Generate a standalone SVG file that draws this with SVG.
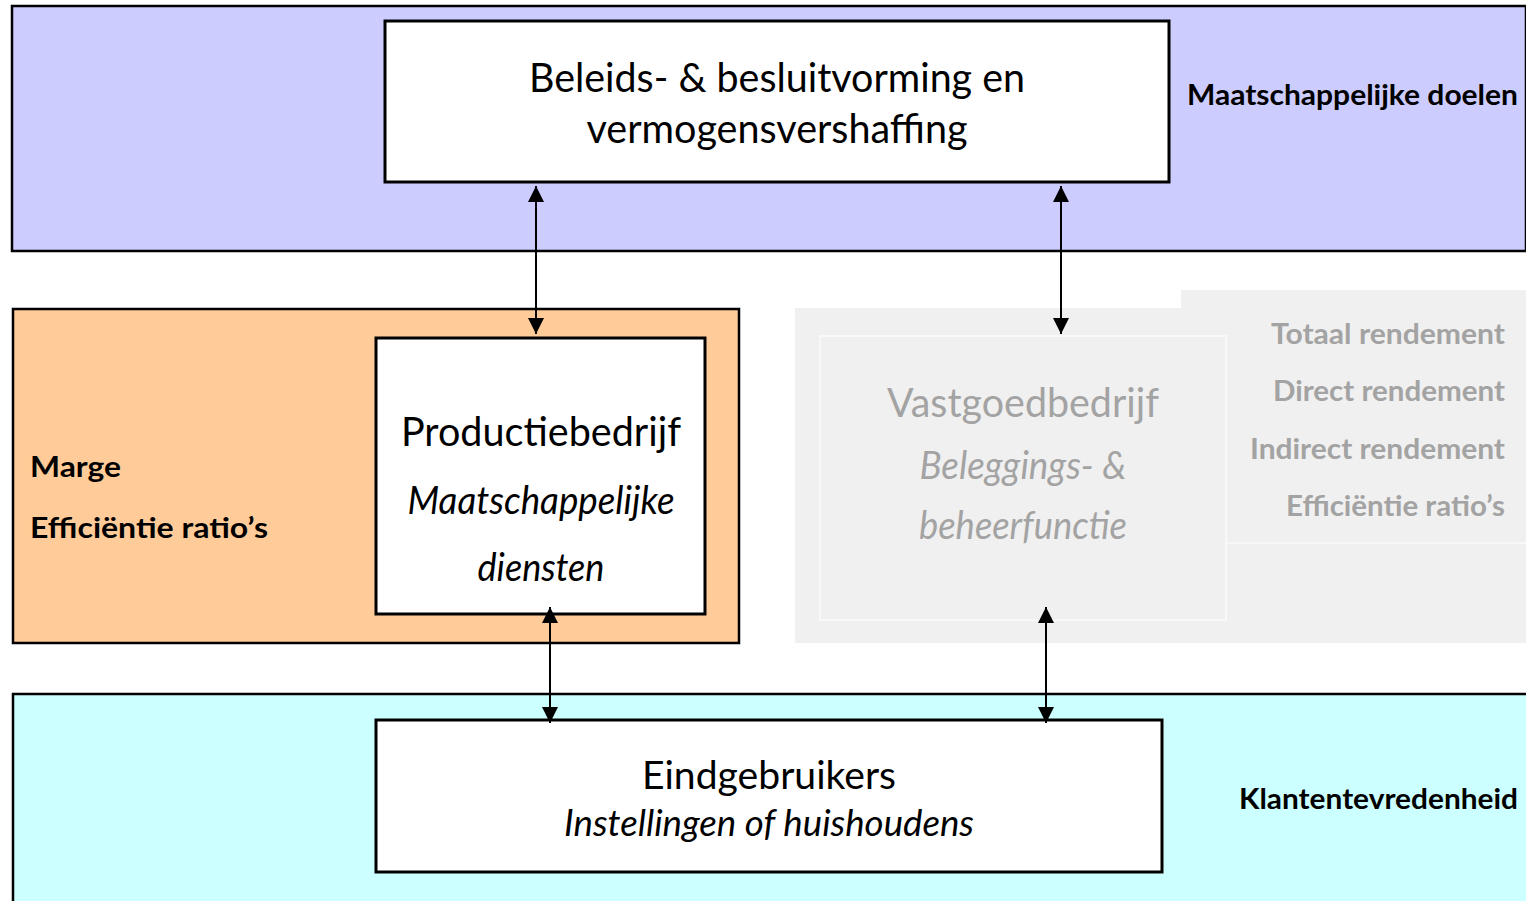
<svg xmlns="http://www.w3.org/2000/svg" width="1526" height="901" viewBox="0 0 1526 901">
<defs>
<style>
.band{stroke:#000;stroke-width:2.5}
.box{fill:#fff;stroke:#000;stroke-width:3}
.t{font-family:Lato,"Open Sans","Liberation Sans",sans-serif;fill:#000}
.b{font-weight:bold}
.i{font-style:italic}
.g{fill:#a3a3a3}
.conn{stroke:#000;stroke-width:2;fill:none;marker-start:url(#ah);marker-end:url(#ah)}
</style>
<marker id="ah" viewBox="0 0 10 10" refX="10" refY="5" markerWidth="8" markerHeight="8" markerUnits="strokeWidth" orient="auto-start-reverse">
<path d="M0,0 L10,5 L0,10 z" fill="#000"/>
</marker>
</defs>
<rect width="1526" height="901" fill="#fff"/>

<g id="band-top">
<rect class="band" x="12" y="6" width="1514" height="245" fill="#ccccff"/>
<text class="t b" x="1518" y="105" font-size="28" text-anchor="end" textLength="331" lengthAdjust="spacingAndGlyphs">Maatschappelijke doelen</text>
</g>
<g id="band-orange">
<rect class="band" x="13" y="309" width="726" height="334" fill="#ffcc99"/>
<text class="t b" x="30" y="477" font-size="28" textLength="91" lengthAdjust="spacingAndGlyphs">Marge</text>
<text class="t b" x="30" y="538" font-size="28" textLength="238" lengthAdjust="spacingAndGlyphs">Efficiëntie ratio’s</text>
</g>
<g id="band-gray">
<rect x="795" y="308" width="400" height="335" fill="#f0f0f0"/>
<rect x="1181" y="290" width="345" height="353" fill="#f0f0f0"/>
<path d="M1226,543 H1526" stroke="#f8f8f8" stroke-width="2"/>
<text class="t b g" x="1505" y="344" font-size="28" text-anchor="end" textLength="234" lengthAdjust="spacingAndGlyphs">Totaal rendement</text>
<text class="t b g" x="1505" y="401" font-size="28" text-anchor="end" textLength="232" lengthAdjust="spacingAndGlyphs">Direct rendement</text>
<text class="t b g" x="1505" y="459" font-size="28" text-anchor="end" textLength="255" lengthAdjust="spacingAndGlyphs">Indirect rendement</text>
<text class="t b g" x="1505" y="516" font-size="28" text-anchor="end" textLength="219" lengthAdjust="spacingAndGlyphs">Efficiëntie ratio’s</text>
</g>
<g id="band-bottom">
<rect class="band" x="13" y="694" width="1515" height="210" fill="#ccffff"/>
<text class="t b" x="1518" y="809" font-size="28" text-anchor="end" textLength="279" lengthAdjust="spacingAndGlyphs">Klantentevredenheid</text>
</g>

<g id="node-beleid">
<rect class="box" x="385" y="21" width="784" height="161"/>
<text class="t" x="777" y="92" font-size="40" text-anchor="middle" textLength="496" lengthAdjust="spacingAndGlyphs">Beleids- &amp; besluitvorming en</text>
<text class="t" x="777" y="143" font-size="40" text-anchor="middle" textLength="381" lengthAdjust="spacingAndGlyphs">vermogensvershaffing</text>
</g>
<g id="node-productie">
<rect class="box" x="376" y="338" width="329" height="276"/>
<text class="t" x="541" y="446" font-size="41" text-anchor="middle" textLength="280" lengthAdjust="spacingAndGlyphs">Productiebedrijf</text>
<text class="t i" x="541" y="514" font-size="38" text-anchor="middle" textLength="267" lengthAdjust="spacingAndGlyphs">Maatschappelijke</text>
<text class="t i" x="541" y="581" font-size="38" text-anchor="middle" textLength="127" lengthAdjust="spacingAndGlyphs">diensten</text>
</g>
<g id="node-vastgoed">
<rect x="820" y="336" width="406" height="284" fill="#f0f0f0" stroke="#f8f8f8" stroke-width="2"/>
<text class="t g" x="1023" y="417" font-size="41" text-anchor="middle" textLength="272" lengthAdjust="spacingAndGlyphs">Vastgoedbedrijf</text>
<text class="t i g" x="1023" y="479" font-size="38" text-anchor="middle" textLength="207" lengthAdjust="spacingAndGlyphs">Beleggings- &amp;</text>
<text class="t i g" x="1023" y="539" font-size="38" text-anchor="middle" textLength="208" lengthAdjust="spacingAndGlyphs">beheerfunctie</text>
</g>
<g id="node-eind">
<rect class="box" x="376" y="720" width="786" height="152"/>
<text class="t" x="769" y="789" font-size="39" text-anchor="middle" textLength="254" lengthAdjust="spacingAndGlyphs">Eindgebruikers</text>
<text class="t i" x="769" y="836" font-size="36" text-anchor="middle" textLength="410" lengthAdjust="spacingAndGlyphs">Instellingen of huishoudens</text>
</g>

<g id="connectors">
<path class="conn" d="M536,186 V334"/>
<path class="conn" d="M1061,186 V334"/>
<path class="conn" d="M550,607 V723"/>
<path class="conn" d="M1046,607 V723"/>
</g>
</svg>
